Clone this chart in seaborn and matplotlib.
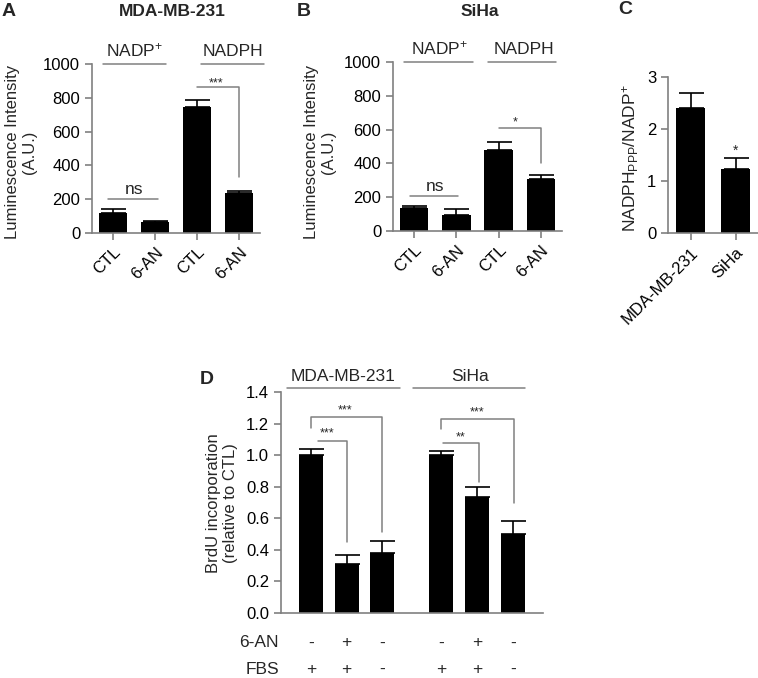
import numpy as np
import pandas as pd
import matplotlib
matplotlib.use("Agg")
import matplotlib.pyplot as plt
import seaborn as sns

# ---- data ----
a_labels = ["CTL", "6-AN", "CTL", "6-AN"]
a_means = [120, 65, 745, 235]
a_errs = [20, 6, 40, 15]

b_labels = ["CTL", "6-AN", "CTL", "6-AN"]
b_means = [135, 95, 480, 310]
b_errs = [10, 35, 45, 20]

c_labels = ["MDA-MB-231", "SiHa"]
c_means = [2.40, 1.23]
c_errs = [0.30, 0.22]

d_means = [1.00, 0.31, 0.38, 1.00, 0.735, 0.50]
d_errs = [0.04, 0.06, 0.075, 0.025, 0.065, 0.085]
d_6an = ["-", "+", "-", "-", "+", "-"]
d_fbs = ["+", "+", "-", "+", "+", "-"]

sns.set_style("ticks")
plt.rcParams["font.family"] = ["Liberation Sans", "DejaVu Sans"]
plt.rcParams["mathtext.default"] = "regular"

GRAY = "#808080"
W, H = 758, 678
fig = plt.figure(figsize=(W / 100, H / 100), dpi=100)


def px_axes(x0, ytop, x1, ybot):
    return fig.add_axes([x0 / W, 1 - ybot / H, (x1 - x0) / W, (ybot - ytop) / H])


def px_text(x, y, s, **kw):
    fig.text(x / W, 1 - y / H, s, **kw)


def style(ax):
    sns.despine(ax=ax)
    for s in ["left", "bottom"]:
        ax.spines[s].set_color(GRAY)
        ax.spines[s].set_linewidth(1.2)
    ax.tick_params(colors=GRAY, labelcolor="black", labelsize=12, width=1.2, length=5)
    ax.set_xlabel("")
    ax.set_ylabel("")


def bars(ax, pos, means, errs, width):
    df = pd.DataFrame({"pos": pos, "val": means})
    sns.barplot(data=df, x="pos", y="val", color="black", errorbar=None,
                native_scale=True, width=width, ax=ax, saturation=1,
                edgecolor="black", linewidth=0)
    # upper half of the SEM bar only, GraphPad style
    half = np.array(errs) / 2
    ax.errorbar(pos, np.array(means) + half, yerr=half, fmt="none",
                ecolor="black", elinewidth=1.2, capsize=9, capthick=1.2)


def line(ax, xs, ys, **kw):
    ax.plot(xs, ys, color=GRAY, lw=1.1, clip_on=False, **kw)


# ---- panel A ----
axA = px_axes(92, 64, 260, 233)
posA = [0, 1, 2, 3]
bars(axA, posA, a_means, a_errs, 0.67)
style(axA)
axA.set_xlim(-0.5, 3.5)
axA.set_ylim(0, 1000)
axA.set_yticks([0, 200, 400, 600, 800, 1000])
axA.set_xticks(posA)
axA.set_xticklabels(a_labels, rotation=45, ha="right", rotation_mode="anchor")
px_text(21, 152, "Luminescence Intensity\n(A.U.)", rotation=90, ha="center",
        va="center", multialignment="center", fontsize=12)
line(axA, [-0.25, 1.25], [1002, 1002])
line(axA, [2.1, 3.6], [1002, 1002])
axA.text(0.5, 1030, "NADP$^{+}$", ha="center", va="bottom", fontsize=12.5)
axA.text(2.85, 1030, "NADPH", ha="center", va="bottom", fontsize=12.5)
line(axA, [-0.12, 1.08], [200, 200])
axA.text(0.5, 215, "ns", ha="center", va="bottom", fontsize=12.5)
line(axA, [2, 3, 3], [865, 865, 330])
axA.text(2.45, 885, "***", ha="center", va="center", fontsize=9)

# ---- panel B ----
axB = px_axes(393, 62, 562, 231)
posB = [0, 1, 2, 3]
bars(axB, posB, b_means, b_errs, 0.67)
style(axB)
axB.set_xlim(-0.5, 3.5)
axB.set_ylim(0, 1000)
axB.set_yticks([0, 200, 400, 600, 800, 1000])
axB.set_xticks(posB)
axB.set_xticklabels(b_labels, rotation=45, ha="right", rotation_mode="anchor")
px_text(320, 152, "Luminescence Intensity\n(A.U.)", rotation=90, ha="center",
        va="center", multialignment="center", fontsize=12)
line(axB, [-0.25, 1.4], [1002, 1002])
line(axB, [1.75, 3.35], [1002, 1002])
axB.text(0.6, 1030, "NADP$^{+}$", ha="center", va="bottom", fontsize=12.5)
axB.text(2.6, 1030, "NADPH", ha="center", va="bottom", fontsize=12.5)
line(axB, [-0.1, 1.05], [205, 205])
axB.text(0.5, 220, "ns", ha="center", va="bottom", fontsize=12.5)
line(axB, [2, 3, 3], [610, 610, 400])
axB.text(2.4, 640, "*", ha="center", va="center", fontsize=9)

# ---- panel C ----
axC = px_axes(668, 77, 758, 233)
posC = [0, 1]
bars(axC, posC, c_means, c_errs, 0.66)
style(axC)
axC.set_xlim(-0.5, 1.5)
axC.set_ylim(0, 3)
axC.set_yticks([0, 1, 2, 3])
axC.set_xticks(posC)
axC.set_xticklabels(c_labels, rotation=45, ha="right", rotation_mode="anchor")
px_text(631, 158, "NADPH$_{PPP}$/NADP$^{+}$", rotation=90, ha="center",
        va="center", fontsize=12.5)
axC.text(1, 1.58, "*", ha="center", va="center", fontsize=10)

# ---- panel D ----
axD = px_axes(281, 392, 543, 613)
posD = [0, 1, 2, 3.65, 4.65, 5.65]
bars(axD, posD, d_means, d_errs, 0.67)
style(axD)
axD.set_xlim(-0.84, 6.5)
axD.set_ylim(0, 1.4)
axD.set_yticks(np.arange(0, 1.41, 0.2))
axD.set_yticklabels([f"{v:.1f}" for v in np.arange(0, 1.41, 0.2)])
axD.set_xticks([])
px_text(222, 503, "BrdU incorporation\n(relative to CTL)", rotation=90, ha="center",
        va="center", multialignment="center", fontsize=12)
line(axD, [-0.67, 2.5], [1.425, 1.425])
line(axD, [2.85, 6.0], [1.425, 1.425])
axD.text(0.9, 1.45, "MDA-MB-231", ha="center", va="bottom", fontsize=12.5)
axD.text(4.45, 1.45, "SiHa", ha="center", va="bottom", fontsize=12.5)
line(axD, [0, 0, 2, 2], [1.17, 1.24, 1.24, 0.51])
line(axD, [0.2, 1, 1], [1.09, 1.09, 0.45])
axD.text(0.95, 1.285, "***", ha="center", va="center", fontsize=9)
axD.text(0.45, 1.135, "***", ha="center", va="center", fontsize=9)
line(axD, [3.65, 3.65, 5.7, 5.7], [1.165, 1.23, 1.23, 0.70])
line(axD, [3.7, 4.7, 4.7], [1.08, 1.08, 0.83])
axD.text(4.65, 1.27, "***", ha="center", va="center", fontsize=9)
axD.text(4.2, 1.115, "**", ha="center", va="center", fontsize=9)
for p, s6, sf in zip(posD, d_6an, d_fbs):
    axD.text(p, -0.19, s6, ha="center", va="center", fontsize=12.5)
    axD.text(p, -0.36, sf, ha="center", va="center", fontsize=12.5)
axD.text(-0.9, -0.19, "6-AN", ha="right", va="center", fontsize=12.5)
axD.text(-0.9, -0.36, "FBS", ha="right", va="center", fontsize=12.5)

# ---- titles and panel letters ----
px_text(172, 12, "MDA-MB-231", ha="center", va="center", fontsize=12.5, fontweight="bold")
px_text(480, 12, "SiHa", ha="center", va="center", fontsize=12.5, fontweight="bold")
px_text(2, 12, "A", ha="left", va="center", fontsize=14, fontweight="bold")
px_text(297, 12, "B", ha="left", va="center", fontsize=14, fontweight="bold")
px_text(618, 10, "C", ha="left", va="center", fontsize=14, fontweight="bold")
px_text(200, 379, "D", ha="left", va="center", fontsize=14, fontweight="bold")

fig.savefig("out.png", dpi=100)
